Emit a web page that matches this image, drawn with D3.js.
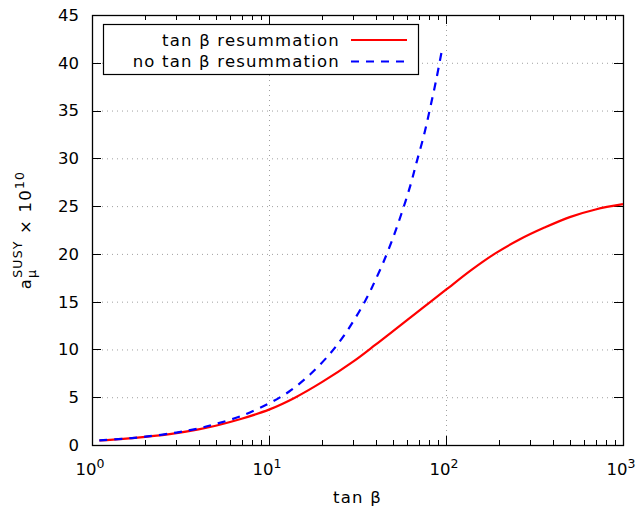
<!DOCTYPE html>
<html>
<head>
<meta charset="utf-8">
<script src="https://cdn.jsdelivr.net/npm/d3@7"></script>
<style>
  body { margin: 0; background: #fff; }
  text { font-family: "DejaVu Sans", sans-serif; fill: #000; }
</style>
</head>
<body>
<div id="chart"></div>
<script>
// values
const tanBetaNoRes = [1.1, 1.5, 2, 3, 4, 5, 7, 10, 13, 17, 22, 25, 28, 31, 35, 38, 40, 44, 50, 56, 63, 68, 75, 81, 88, 95];
const noResummation = [0.48, 0.65, 0.87, 1.3, 1.74, 2.2, 3.05, 4.35, 5.6, 7.35, 9.5, 10.8, 12.1, 13.4, 15.1, 16.4, 17.3, 19.0, 21.6, 24.2, 27.2, 29.5, 32.4, 35.1, 38.2, 41.4];

const tanBetaRes = [1.1, 1.5, 2, 3, 4, 5, 7, 10, 14, 20, 30, 40, 50, 60, 70, 80, 100, 140, 190, 260, 360, 500, 700, 1000];
const resummation = [0.47, 0.64, 0.85, 1.25, 1.64, 2.02, 2.75, 3.7, 4.95, 6.6, 8.75, 10.5, 11.9, 13.05, 14.02, 14.85, 16.25, 18.35, 20.05, 21.5, 22.75, 23.85, 24.65, 25.2];

const xTicks = [1, 10, 100, 1000];
const yTicks = [0, 5, 10, 15, 20, 25, 30, 35, 40, 45];

const width = 642, height = 509;
const margin = {top: 15, right: 19, bottom: 64, left: 92};
const innerW = width - margin.left - margin.right;
const innerH = height - margin.top - margin.bottom;
const fontSize = "16.5px", smallSize = "12.5px", spacing = "1.2px";

const x = d3.scaleLog().domain([1, 1000]).range([0, innerW]);
const y = d3.scaleLinear().domain([0, 45]).range([innerH, 0]);

const svg = d3.select("#chart").append("svg")
    .attr("width", width)
    .attr("height", height);

const g = svg.append("g")
    .attr("transform", `translate(${margin.left},${margin.top})`);

// grid
g.append("g").selectAll("line").data(yTicks.slice(1, -1)).join("line")
    .attr("x1", 0).attr("x2", innerW)
    .attr("y1", d => y(d) + 0.5).attr("y2", d => y(d) + 0.5)
    .attr("stroke", "#a0a0a0").attr("stroke-dasharray", "1,4");
g.append("g").selectAll("line").data(xTicks.slice(1, -1)).join("line")
    .attr("y1", 0).attr("y2", innerH)
    .attr("x1", d => Math.round(x(d)) + 0.5).attr("x2", d => Math.round(x(d)) + 0.5)
    .attr("stroke", "#a0a0a0").attr("stroke-dasharray", "1,4");

// minor ticks (2..9 of every decade)
const minor = [];
for (let dec = 1; dec < 1000; dec *= 10) {
  for (let k = 2; k <= 9; k++) minor.push(dec * k);
}

const ticks = g.append("g").attr("stroke", "#000").attr("stroke-width", 1);
// y major ticks on both sides
yTicks.forEach(v => {
  const yy = Math.round(y(v)) + 0.5;
  ticks.append("line").attr("x1", 0).attr("x2", 9).attr("y1", yy).attr("y2", yy);
  ticks.append("line").attr("x1", innerW).attr("x2", innerW - 9).attr("y1", yy).attr("y2", yy);
});
// x major ticks top & bottom
xTicks.forEach(v => {
  const xx = Math.round(x(v)) + 0.5;
  ticks.append("line").attr("x1", xx).attr("x2", xx).attr("y1", innerH).attr("y2", innerH - 9);
  ticks.append("line").attr("x1", xx).attr("x2", xx).attr("y1", 0).attr("y2", 9);
});
minor.forEach(v => {
  const xx = Math.round(x(v)) + 0.5;
  ticks.append("line").attr("x1", xx).attr("x2", xx).attr("y1", innerH).attr("y2", innerH - 5);
  ticks.append("line").attr("x1", xx).attr("x2", xx).attr("y1", 0).attr("y2", 5);
});

// frame
g.append("rect")
    .attr("x", 0.5).attr("y", 0.5)
    .attr("width", innerW).attr("height", innerH)
    .attr("fill", "none").attr("stroke", "#000").attr("stroke-width", 1.3);

// tick labels
g.append("g").selectAll("text").data(yTicks).join("text")
    .attr("x", -13).attr("y", d => y(d))
    .attr("dy", "0.36em")
    .attr("text-anchor", "end")
    .style("font-size", fontSize)
    .text(d => d);

const xl = g.append("g").selectAll("text").data(xTicks).join("text")
    .attr("x", d => x(d) - 2)
    .attr("y", innerH + 30)
    .attr("text-anchor", "middle")
    .style("font-size", fontSize);
xl.append("tspan").text("10");
xl.append("tspan")
    .attr("dy", -7)
    .style("font-size", smallSize)
    .text(d => Math.round(Math.log10(d)));

// axis titles
g.append("text")
    .attr("x", innerW / 2)
    .attr("y", innerH + 58)
    .attr("text-anchor", "middle")
    .style("font-size", fontSize)
    .style("letter-spacing", spacing)
    .text("tan β");

const yt = svg.append("text")
    .attr("transform", `translate(31,${margin.top + innerH / 2}) rotate(-90)`)
    .attr("text-anchor", "middle")
    .style("font-size", fontSize)
    .style("letter-spacing", spacing);
yt.append("tspan").text("a");
yt.append("tspan").attr("dy", 5).style("font-size", smallSize).text("μ");
yt.append("tspan").attr("dx", -9).attr("dy", -14).style("font-size", smallSize).text("SUSY");
yt.append("tspan").attr("dy", 9).text(" × 10");
yt.append("tspan").attr("dy", -7).style("font-size", smallSize).text("10");

// curves
const line = d3.line()
    .x(d => x(d[0]))
    .y(d => y(d[1]))
    .curve(d3.curveCatmullRom.alpha(0.5));

const plot = g.append("g");
plot.append("path")
    .datum(d3.zip(tanBetaRes, resummation))
    .attr("d", line)
    .attr("fill", "none")
    .attr("stroke", "#ff0000")
    .attr("stroke-width", 2.2);

plot.append("path")
    .datum(d3.zip(tanBetaNoRes, noResummation))
    .attr("d", line)
    .attr("fill", "none")
    .attr("stroke", "#0000ff")
    .attr("stroke-width", 2.2)
    .attr("stroke-dasharray", "8,7");

// legend
const legendItems = [
  {label: "tan β resummation", color: "#ff0000", dash: null},
  {label: "no tan β resummation", color: "#0000ff", dash: "8,7"}
];
const lg = svg.append("g").attr("transform", "translate(103,24)");
lg.append("rect")
    .attr("x", 0.5).attr("y", 0.5)
    .attr("width", 315).attr("height", 50)
    .attr("fill", "#fff").attr("stroke", "#000").attr("stroke-width", 1.2);
legendItems.forEach((d, i) => {
  const cy = 16 + i * 21.5;
  lg.append("text")
      .attr("x", 237).attr("y", cy)
      .attr("dy", "0.36em")
      .attr("text-anchor", "end")
      .style("font-size", fontSize)
      .style("letter-spacing", spacing)
      .text(d.label);
  lg.append("line")
      .attr("x1", 248).attr("x2", 304)
      .attr("y1", cy).attr("y2", cy)
      .attr("stroke", d.color)
      .attr("stroke-width", 2.2)
      .attr("stroke-dasharray", d.dash);
});
</script>
</body>
</html>
